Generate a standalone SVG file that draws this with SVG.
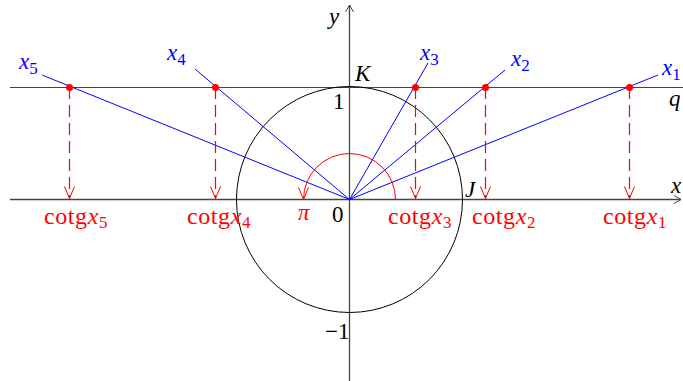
<svg xmlns="http://www.w3.org/2000/svg" width="683" height="381" viewBox="0 0 683 381">
<defs>
<marker id="ah" markerWidth="10" markerHeight="10" refX="8" refY="5" orient="auto" markerUnits="userSpaceOnUse"><path d="M1,1 L8,5 L1,9" fill="none" stroke="#444" stroke-width="1"/></marker>
<marker id="rh" markerWidth="14" markerHeight="14" refX="13" refY="7" orient="auto" markerUnits="userSpaceOnUse"><path d="M1,2 L13,7 L1,12" fill="none" stroke="#f00" stroke-width="1"/></marker>
</defs>
<style>
.ax{stroke:#444;stroke-width:1.3;fill:none}
.bl{stroke:#00f;stroke-width:1;fill:none}
.dash{stroke:#f00;stroke-width:1.2;stroke-dasharray:12,6;fill:none}
.t{font-family:"Liberation Serif",serif;font-size:23px;fill:#000}
.c{font-size:24px;letter-spacing:0.6px}
.r{fill:#f00}
.b{fill:#00f}
.i{font-style:italic}
.s{font-size:17px}
</style>
<g id="axes">
<line class="ax" x1="10" y1="199.5" x2="681" y2="199.5" marker-end="url(#ah)"/>
<line class="ax" x1="349.5" y1="381" x2="349.5" y2="5" marker-end="url(#ah)"/>
<line x1="10" y1="87.5" x2="683" y2="87.5" stroke="#444" stroke-width="1"/>
</g>
<g id="circle"><circle cx="349.5" cy="199.5" r="113" fill="none" stroke="#000" stroke-width="1"/></g>
<g id="connectors">
<line class="bl" x1="349.5" y1="199.5" x2="42" y2="75"/>
<line class="bl" x1="349.5" y1="199.5" x2="195" y2="69"/>
<line class="bl" x1="349.5" y1="199.5" x2="428" y2="63"/>
<line class="bl" x1="349.5" y1="199.5" x2="505" y2="70"/>
<line class="bl" x1="349.5" y1="199.5" x2="658" y2="75"/>
<path d="M395.5,199.5 A46,46 0 0 0 303.5,199.5" fill="none" stroke="#f00" stroke-width="1" marker-end="url(#rh)"/>
<line class="dash" x1="69.5" y1="87" x2="69.5" y2="198.5" marker-end="url(#rh)"/>
<line class="dash" x1="215.5" y1="87" x2="215.5" y2="198.5" marker-end="url(#rh)"/>
<line class="dash" x1="415.5" y1="87" x2="415.5" y2="198.5" marker-end="url(#rh)"/>
<line class="dash" x1="485.5" y1="87" x2="485.5" y2="198.5" marker-end="url(#rh)"/>
<line class="dash" x1="629.5" y1="87" x2="629.5" y2="198.5" marker-end="url(#rh)"/>
</g>
<g id="points" fill="#f00">
<circle cx="69.5" cy="87.5" r="3.5"/><circle cx="215.5" cy="87.5" r="3.5"/><circle cx="415.5" cy="87.5" r="3.5"/><circle cx="485.5" cy="87.5" r="3.5"/><circle cx="629.5" cy="87.5" r="3.5"/>
</g>
<g id="labels">
<text class="t i" x="329" y="24">y</text>
<text class="t i" x="355" y="81">K</text>
<text class="t" x="333" y="109">1</text>
<text class="t" x="332" y="222">0</text>
<text class="t i" x="465" y="197">J</text>
<text class="t" x="325" y="339">−1</text>
<text class="t i" x="671" y="193">x</text>
<text class="t i" x="669" y="106">q</text>
<text class="t i r" x="298" y="220">π</text>
<text class="t b i" x="19" y="69">x<tspan class="s" font-style="normal" dy="5">5</tspan></text>
<text class="t b i" x="167" y="60">x<tspan class="s" font-style="normal" dy="5">4</tspan></text>
<text class="t b i" x="420" y="60">x<tspan class="s" font-style="normal" dy="5">3</tspan></text>
<text class="t b i" x="511" y="66">x<tspan class="s" font-style="normal" dy="5">2</tspan></text>
<text class="t b i" x="662" y="75">x<tspan class="s" font-style="normal" dy="5">1</tspan></text>
<text class="t c r" x="44" y="224">cotg<tspan class="i">x</tspan><tspan class="s" dy="4">5</tspan></text>
<text class="t c r" x="187" y="224">cotg<tspan class="i">x</tspan><tspan class="s" dy="4">4</tspan></text>
<text class="t c r" x="388" y="224">cotg<tspan class="i">x</tspan><tspan class="s" dy="4">3</tspan></text>
<text class="t c r" x="472" y="224">cotg<tspan class="i">x</tspan><tspan class="s" dy="4">2</tspan></text>
<text class="t c r" x="603" y="224">cotg<tspan class="i">x</tspan><tspan class="s" dy="4">1</tspan></text>
</g>
</svg>
